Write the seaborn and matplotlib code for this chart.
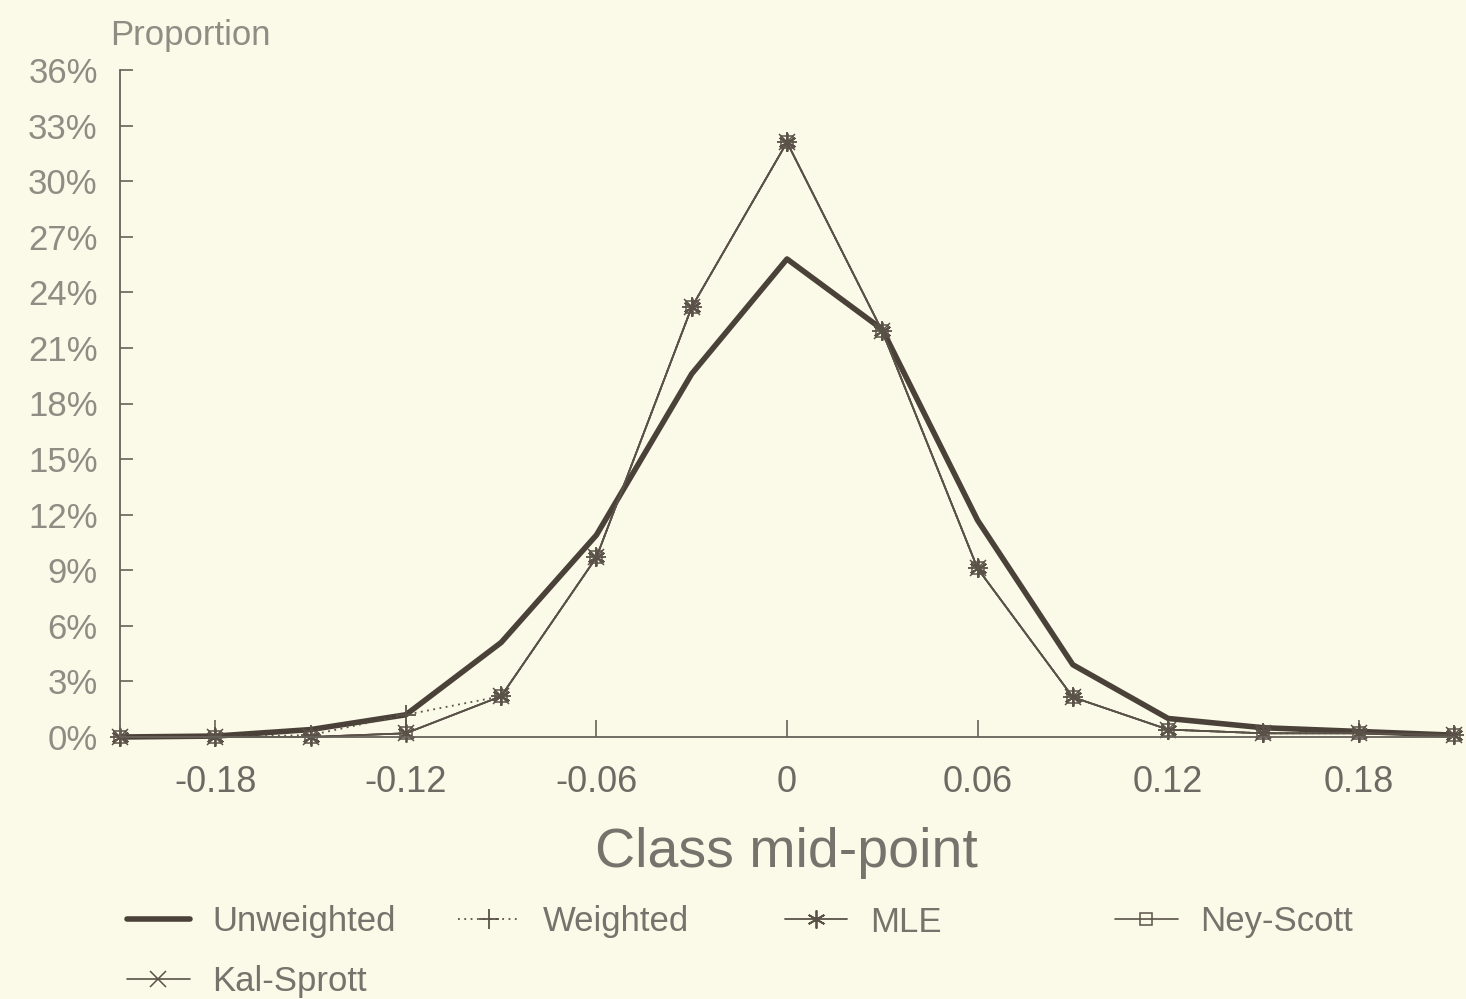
import matplotlib
matplotlib.use("Agg")
import matplotlib.pyplot as plt
import seaborn as sns
import pandas as pd

# ---- data ----
class_mid = [-0.21, -0.18, -0.15, -0.12, -0.09, -0.06, -0.03, 0.0,
             0.03, 0.06, 0.09, 0.12, 0.15, 0.18, 0.21]
unweighted = [0.0, 0.05, 0.4, 1.2, 5.1, 10.9, 19.6, 25.8, 22.0, 11.7, 3.9, 1.0, 0.5, 0.3, 0.1]
weighted   = [0.0, 0.0, 0.1, 1.2, 2.2, 9.7, 23.2, 32.1, 21.9, 9.1, 2.15, 0.4, 0.2, 0.2, 0.1]
mle        = [0.0, 0.0, 0.0, 0.2, 2.2, 9.7, 23.2, 32.1, 21.9, 9.1, 2.15, 0.4, 0.2, 0.2, 0.1]
ney_scott  = [0.0, 0.0, 0.0, 0.2, 2.2, 9.7, 23.2, 32.1, 21.9, 9.1, 2.15, 0.4, 0.2, 0.2, 0.1]
kal_sprott = [0.0, 0.0, 0.0, 0.2, 2.2, 9.7, 23.2, 32.1, 21.9, 9.1, 2.15, 0.4, 0.2, 0.2, 0.1]

x_ticks = [-0.18, -0.12, -0.06, 0.0, 0.06, 0.12, 0.18]
x_tick_labels = ["-0.18", "-0.12", "-0.06", "0", "0.06", "0.12", "0.18"]
y_ticks = [0, 3, 6, 9, 12, 15, 18, 21, 24, 27, 30, 33, 36]
y_tick_labels = [f"{v}%" for v in y_ticks]

series_names = ["Unweighted", "Weighted", "MLE", "Ney-Scott", "Kal-Sprott"]
series_vals = [unweighted, weighted, mle, ney_scott, kal_sprott]

# ---- style ----
sns.set_theme(style="white")
plt.rcParams["font.family"] = ["Liberation Sans", "DejaVu Sans"]

BG = "#fbf9e8"
LINE_DARK = "#4a4239"
LINE = "#5a5248"
AXIS = "#66625a"
TXT_TICK_Y = "#8e8d84"
TXT_TICK_X = "#6c6a62"
TXT_LABEL = "#75736b"

fig = plt.figure(figsize=(14.66, 9.99), dpi=100, facecolor=BG)
ax = fig.add_axes([120 / 1466, 1 - 737 / 999, (1454 - 120) / 1466, (737 - 70) / 999])
ax.set_facecolor(BG)

styles = {
    "Unweighted": dict(color=LINE_DARK, linewidth=4.0, linestyle="-", marker=None),
    "Weighted":   dict(color=LINE, linewidth=1.3, linestyle=(0, (1, 2.5)), marker="+",
                       markersize=14, markeredgewidth=1.3, markeredgecolor=LINE),
    "MLE":        dict(color=LINE, linewidth=1.3, linestyle="-", marker=(6, 2, 0),
                       markersize=13, markeredgewidth=1.3, markeredgecolor=LINE),
    "Ney-Scott":  dict(color=LINE, linewidth=1.2, linestyle="-", marker="s",
                       markersize=9, markerfacecolor="none", markeredgewidth=1.1,
                       markeredgecolor=LINE),
    "Kal-Sprott": dict(color=LINE, linewidth=1.2, linestyle="-", marker="x",
                       markersize=11, markeredgewidth=1.1, markeredgecolor=LINE),
}

handles = {}
for name, vals in zip(series_names, series_vals):
    df = pd.DataFrame({"x": class_mid, "y": vals})
    st = styles[name]
    kw = {k: v for k, v in st.items() if k not in ("marker",)}
    sns.lineplot(data=df, x="x", y="y", ax=ax, legend=False, marker=st["marker"],
                 estimator=None, sort=False, **kw)
    ln = ax.get_lines()[-1]
    if "markeredgecolor" in st:
        ln.set_markeredgecolor(st["markeredgecolor"])
    handles[name] = ln

# ---- axes ----
ax.set_xlim(-0.21, 0.21)
ax.set_ylim(0, 36)
ax.set_xticks(x_ticks)
ax.set_xticklabels(x_tick_labels)
ax.set_yticks(y_ticks)
ax.set_yticklabels(y_tick_labels)
ax.set_xlabel("")
ax.set_ylabel("")
for side in ("top", "right"):
    ax.spines[side].set_visible(False)
for side in ("left", "bottom"):
    ax.spines[side].set_color(AXIS)
    ax.spines[side].set_linewidth(1.3)
ax.tick_params(axis="x", direction="in", length=12, width=1.2, color=AXIS,
               labelsize=26, labelcolor=TXT_TICK_X, pad=20)
ax.tick_params(axis="y", direction="in", length=9, width=1.2, color=AXIS,
               labelsize=25, labelcolor=TXT_TICK_Y, pad=16)
ax.tick_params(left=True, bottom=True)
ax.grid(False)
for ln in ax.get_lines():
    ln.set_clip_on(False)

# ---- texts ----
fig.text(110 / 1466, 1 - 45 / 999, "Proportion", fontsize=25, color=TXT_TICK_Y,
         ha="left", va="baseline")
fig.text(786 / 1466, 1 - 867 / 999, "Class mid-point", fontsize=40, color=TXT_LABEL,
         ha="center", va="baseline")

# ---- legend (one entry per block, laid out like the original) ----
legend_pos = {
    "Unweighted": (127, 922),
    "Weighted":   (458, 922),
    "MLE":        (785, 922),
    "Ney-Scott":  (1115, 922),
    "Kal-Sprott": (127, 982),
}
for name in series_names:
    px, py = legend_pos[name]
    leg = fig.legend([handles[name]], [name], loc="center left",
                     bbox_to_anchor=(px / 1466, 1 - py / 999),
                     frameon=False, fontsize=25, handlelength=1.8,
                     handletextpad=0.65, borderpad=0, borderaxespad=0)
    for t in leg.get_texts():
        t.set_color(TXT_LABEL)

fig.savefig("out.png", dpi=100, facecolor=BG)
